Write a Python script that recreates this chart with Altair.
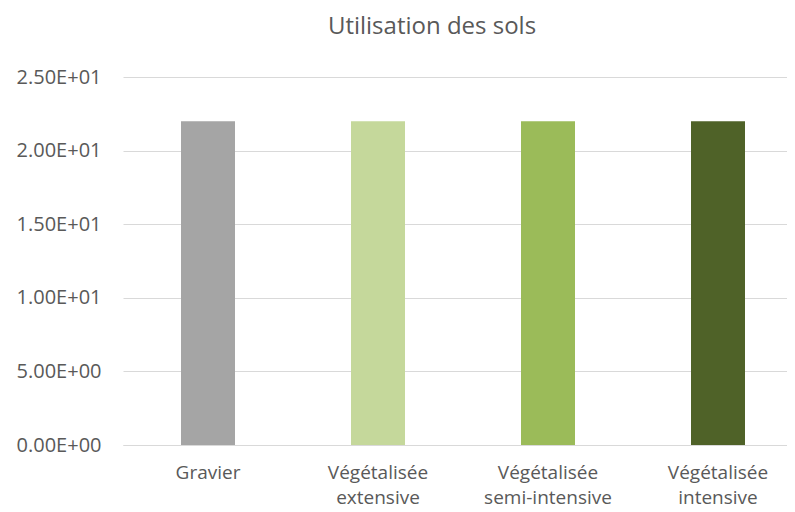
import altair as alt
import pandas as pd

categories = ["Gravier", "Végétalisée\nextensive", "Végétalisée\nsemi-intensive", "Végétalisée\nintensive"]
values = [22.0, 22.0, 22.0, 22.0]
colors = ["#A5A5A5", "#C5D89B", "#9BBB59", "#4F6228"]

df = pd.DataFrame({"cat": categories, "val": values, "col": colors})

FONT = "Open Sans"
TXT = "#595959"

ylab = ("datum.value == 0 ? '0.00E+00' : "
        "format(datum.value / pow(10, floor(log(datum.value)/LN10)), '.2f') + 'E+' + "
        "(floor(log(datum.value)/LN10) < 10 ? '0' : '') + floor(log(datum.value)/LN10)")

chart = alt.Chart(df).mark_bar(size=54).encode(
    x=alt.X("cat:N", sort=categories, title=None,
            scale=alt.Scale(range=[0, 680], paddingInner=0, paddingOuter=0),
            axis=alt.Axis(labelExpr="split(datum.label, '\\n')", labelAngle=0,
                          labelFont=FONT, labelFontSize=19, labelColor=TXT,
                          labelPadding=18, labelLineHeight=25, labelBaseline="top",
                          ticks=False, domainColor="#D9D9D9", domainWidth=1,
                          grid=False)),
    y=alt.Y("val:Q", title=None,
            scale=alt.Scale(domain=[0, 25], nice=False),
            axis=alt.Axis(values=[0, 5, 10, 15, 20, 25], labelExpr=ylab,
                          labelFont=FONT, labelFontSize=20, labelColor=TXT,
                          labelPadding=22, ticks=False, domain=False,
                          gridColor="#D9D9D9", gridWidth=1)),
    color=alt.Color("col:N", scale=None, legend=None),
).properties(
    width=664, height=368,
    autosize=alt.AutoSizeParams(type="none"),
    padding={"left": 115, "top": 69, "right": 0, "bottom": 67},
    title=alt.TitleParams("Utilisation des sols", font=FONT, fontSize=24,
                          fontWeight="normal", color=TXT, anchor="middle",
                          dx=-23, offset=28),
).configure_view(stroke=None)

chart.save("out.html", embed_options={"renderer": "svg", "actions": False})
